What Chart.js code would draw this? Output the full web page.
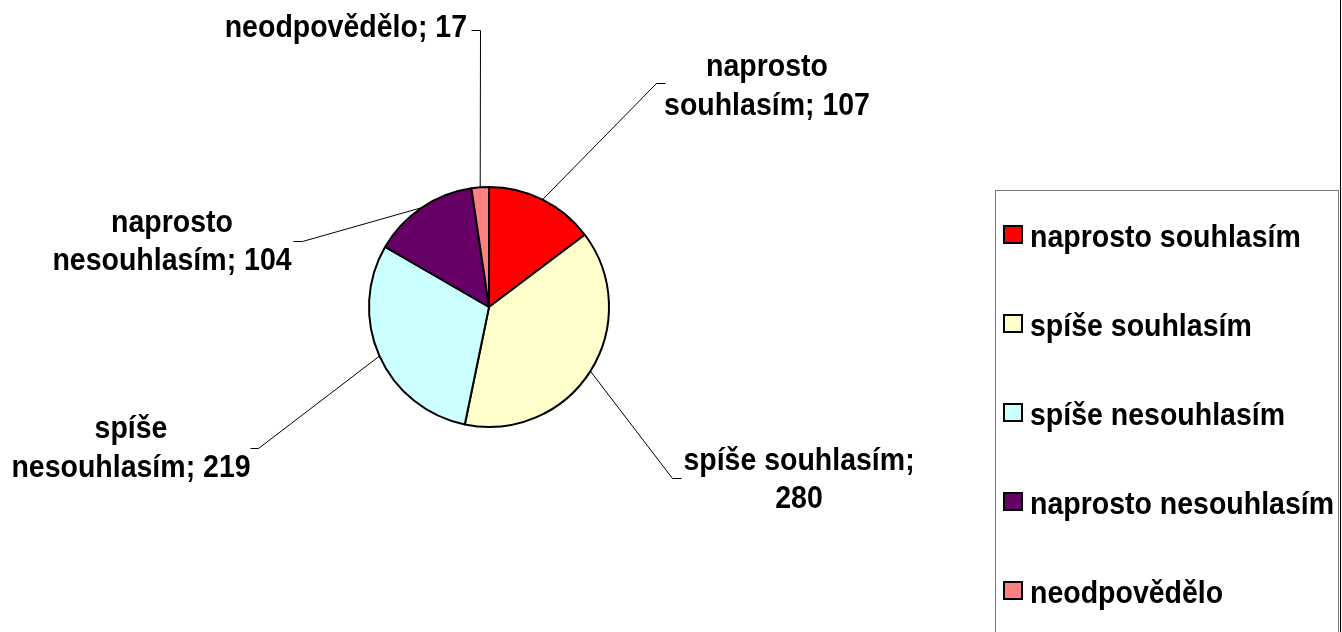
<!DOCTYPE html>
<html>
<head>
<meta charset="utf-8">
<script src="https://cdn.jsdelivr.net/npm/chart.js@4.4.1/dist/chart.umd.min.js"></script>
<style>
  html, body { margin: 0; padding: 0; background: #fff; }
  #wrap { width: 1342px; height: 632px; position: relative; }
</style>
</head>
<body>
<div id="wrap"><canvas id="myChart" width="1342" height="632"></canvas></div>
<script>
var categories = ["naprosto souhlasím", "spíše souhlasím", "spíše nesouhlasím", "naprosto nesouhlasím", "neodpovědělo"];
var counts = [107, 280, 219, 104, 17];
var sliceColors = ['#FF0000', '#FFFFCC', '#CCFFFF', '#660066', '#FF8080'];

// where each data label sits: text x / baselines, elbow of the leader, tick end
var labelLayout = [
    { x: 767, y: [76, 115], split: 1, elbow: [656, 83], tick: [665, 83] },
    { x: 799, y: [470, 508], split: 'value', elbow: [672, 478], tick: [681, 478] },
    { x: 131, y: [438, 477], split: 1, elbow: [258, 448], tick: [250, 448] },
    { x: 172, y: [232, 270], split: 1, elbow: [302, 241], tick: [293, 241] },
    { x: 467, y: [37], split: 0, align: 'right', elbow: [480, 30], tick: [471, 30] }
];

var FONT = 'bold 28.5px "Liberation Sans", Arial, sans-serif';
var STRETCH = 1.07;

function labelLines(i) {
    var txt = categories[i] + '; ' + counts[i];
    var s = labelLayout[i].split;
    if (s === 0) return [txt];
    if (s === 'value') return [categories[i] + ';', String(counts[i])];
    var words = txt.split(' ');
    return [words.slice(0, s).join(' '), words.slice(s).join(' ')];
}

function tallText(c, txt, x, y) {
    c.save();
    c.translate(x, y);
    c.scale(1, STRETCH);
    c.fillText(txt, 0, 0);
    c.restore();
}

var pieLabels = {
    id: 'pieLabels',
    afterDatasetsDraw: function(chart) {
        var c = chart.ctx;
        var arcs = chart.getDatasetMeta(0).data;
        c.save();
        c.strokeStyle = '#000';
        c.lineWidth = 1;
        c.fillStyle = '#000';
        c.font = FONT;
        c.textBaseline = 'alphabetic';
        arcs.forEach(function(arc, i) {
            var L = labelLayout[i];
            var mid = (arc.startAngle + arc.endAngle) / 2;
            var sx = arc.x + Math.cos(mid) * arc.outerRadius;
            var sy = arc.y + Math.sin(mid) * arc.outerRadius;
            c.beginPath();
            c.moveTo(sx, sy);
            c.lineTo(L.elbow[0] + 0.5, L.elbow[1] + 0.5);
            c.lineTo(L.tick[0] + 0.5, L.tick[1] + 0.5);
            c.stroke();
            c.textAlign = L.align || 'center';
            labelLines(i).forEach(function(line, k) {
                tallText(c, line, L.x, L.y[k]);
            });
        });
        c.restore();
    }
};

var sideLegend = {
    id: 'sideLegend',
    afterDraw: function(chart) {
        var c = chart.ctx;
        c.save();
        // frame lines
        c.strokeStyle = '#000';
        c.lineWidth = 1;
        c.beginPath();
        c.moveTo(1340.5, 0);
        c.lineTo(1340.5, 632);
        c.stroke();
        c.strokeStyle = '#777';
        c.strokeRect(995.5, 190.5, 343, 460);

        c.font = FONT;
        c.textBaseline = 'alphabetic';
        c.textAlign = 'left';
        categories.forEach(function(name, i) {
            var y = 247 + i * 89;
            c.fillStyle = sliceColors[i];
            c.fillRect(1004, y - 21, 18, 17);
            c.strokeStyle = '#000';
            c.lineWidth = 2;
            c.strokeRect(1004, y - 21, 18, 17);
            c.fillStyle = '#000';
            tallText(c, name, 1030, y);
        });
        c.restore();
    }
};

var ctx = document.getElementById('myChart').getContext('2d');

var myChart = new Chart(ctx, {
    type: 'pie',
    data: {
        labels: categories,
        datasets: [{
            data: counts,
            backgroundColor: sliceColors,
            borderColor: '#000',
            borderWidth: 2,
            hoverBorderWidth: 2
        }]
    },
    options: {
        responsive: false,
        animation: false,
        events: [],
        layout: {
            padding: { left: 367, right: 731, top: 186, bottom: 204 }
        },
        plugins: {
            legend: { display: false },
            tooltip: { enabled: false }
        }
    },
    plugins: [pieLabels, sideLegend]
});
</script>
</body>
</html>
